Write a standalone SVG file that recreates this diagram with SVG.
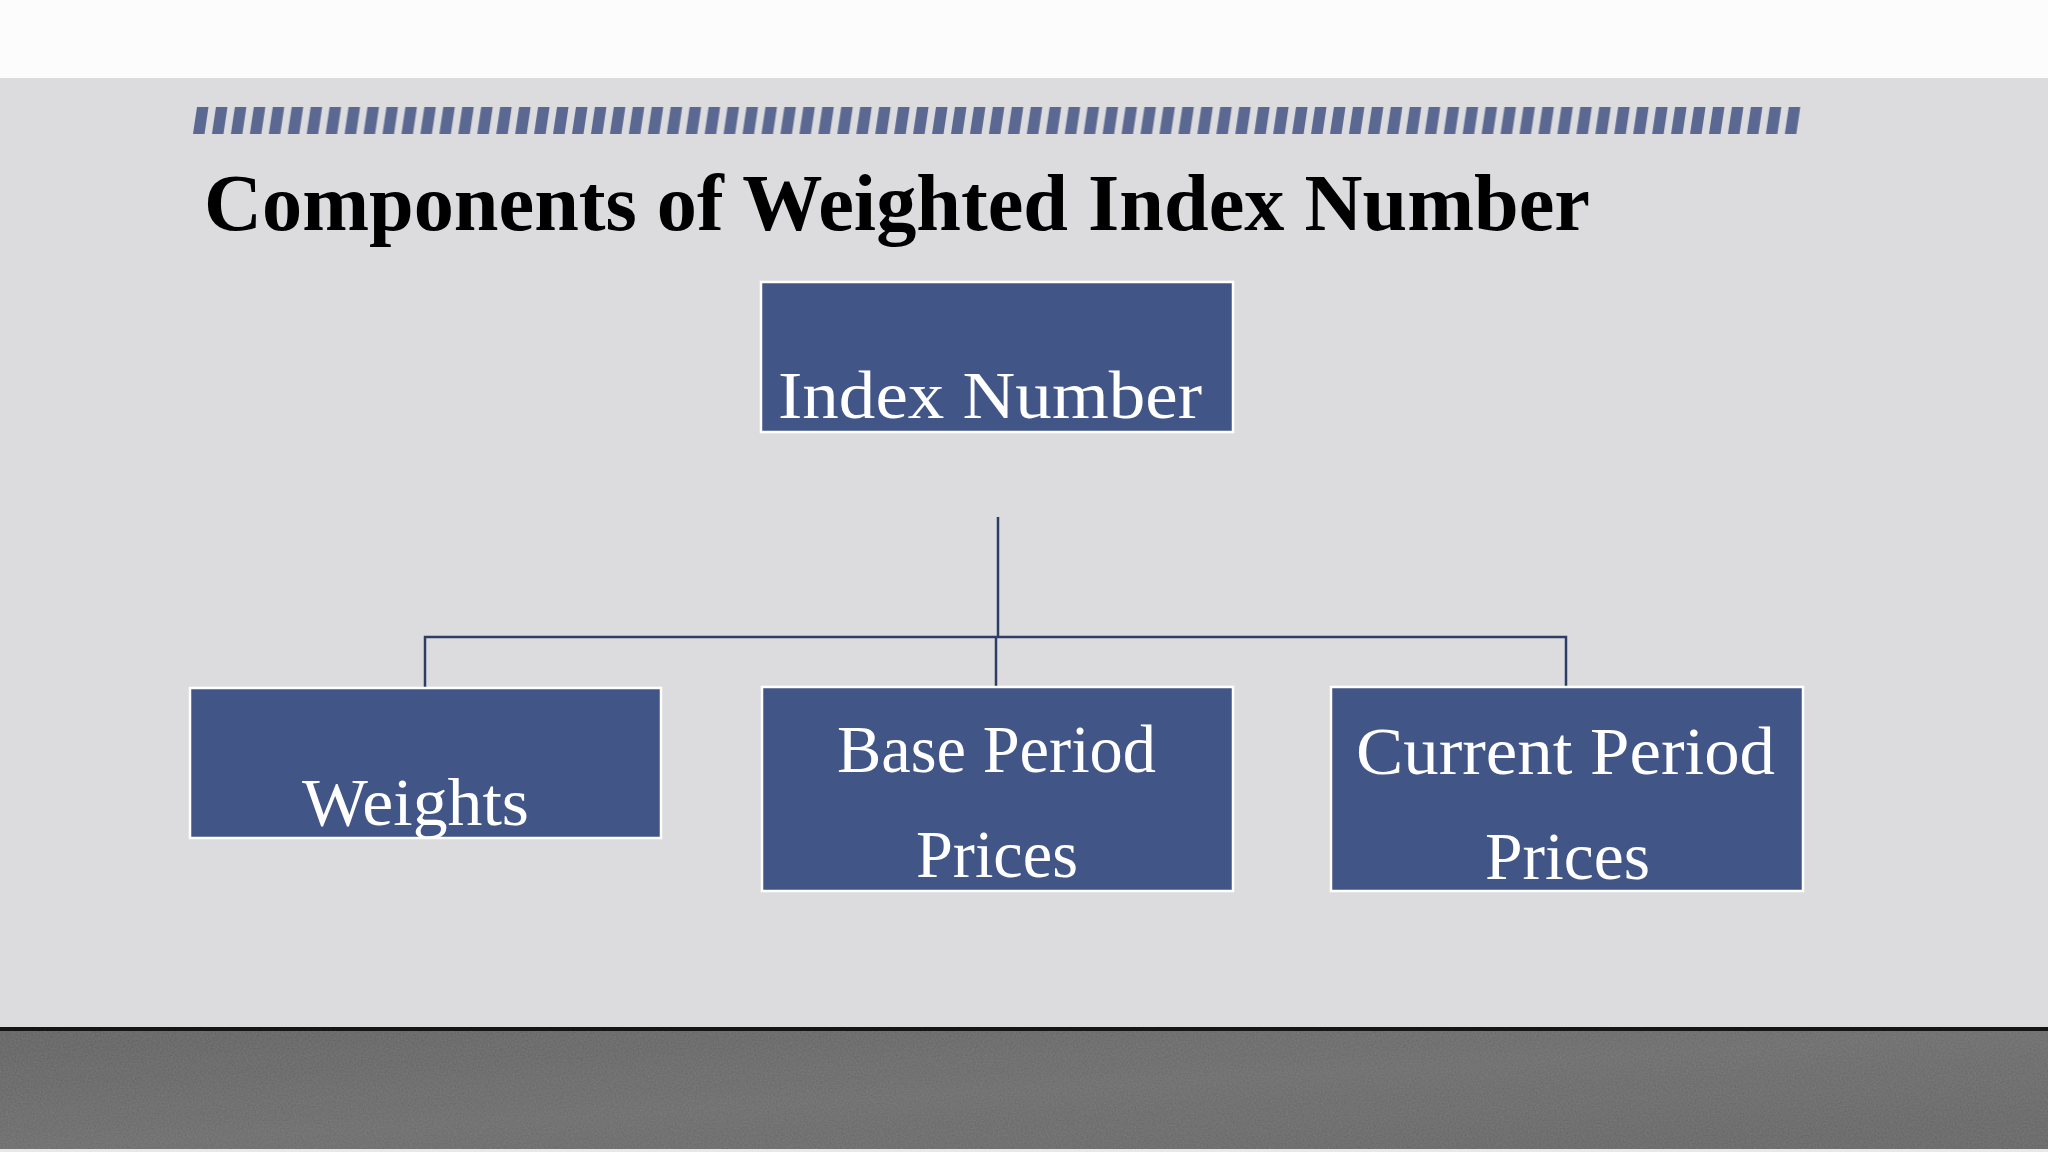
<svg xmlns="http://www.w3.org/2000/svg" width="2048" height="1152" viewBox="0 0 2048 1152">
  <style>
    .box { fill: #425587; stroke: #ffffff; stroke-width: 2.5; }
    .lbl { font-family: "Liberation Serif", "DejaVu Serif", serif; font-size: 68px; fill: #ffffff; }
    .conn { fill: none; stroke: #2d3d63; stroke-width: 2.5; }
    .title { font-family: "Liberation Serif", "DejaVu Serif", serif; font-weight: bold; font-size: 81px; fill: #000000; }
  </style>
  <defs>
    <pattern id="dashes" patternUnits="userSpaceOnUse" x="193" y="107" width="18.95" height="27">
      <polygon points="4,0 15.5,0 11.5,27 0,27" fill="#5b6891"/>
    </pattern>
    <linearGradient id="floor" x1="0" y1="0" x2="1" y2="1">
      <stop offset="0" stop-color="#5f5f5f"/>
      <stop offset="0.5" stop-color="#6a6a6a"/>
      <stop offset="1" stop-color="#626262"/>
    </linearGradient>
    <filter id="grain" x="0" y="0" width="100%" height="100%">
      <feTurbulence type="fractalNoise" baseFrequency="0.6" numOctaves="2" seed="3" result="n"/>
      <feColorMatrix in="n" type="matrix" values="0 0 0 0 0.5  0 0 0 0 0.5  0 0 0 0 0.5  0 0 0 0.18 0" result="g"/>
      <feComposite in="g" in2="SourceGraphic" operator="in" result="gi"/>
      <feMerge><feMergeNode in="SourceGraphic"/><feMergeNode in="gi"/></feMerge>
    </filter>
  </defs>

  <!-- background -->
  <rect x="0" y="0" width="2048" height="78" fill="#fcfcfc"/>
  <rect x="0" y="78" width="2048" height="950" fill="#dcdcdf"/>
  <rect x="0" y="1027" width="2048" height="4" fill="#151515"/>
  <rect x="0" y="1031" width="2048" height="118" fill="url(#floor)" filter="url(#grain)"/>
  <rect x="0" y="1149" width="2048" height="3" fill="#e8e8e8"/>

  <!-- decorative stripe -->
  <rect x="193" y="107" width="1609" height="27" fill="url(#dashes)"/>

  <!-- title -->
  <text class="title" x="204" y="230" textLength="1386" lengthAdjust="spacingAndGlyphs">Components of Weighted Index Number</text>

  <!-- connectors -->
  <g id="connectors">
    <path class="conn" d="M998,517 V637"/>
    <path class="conn" d="M425,687 V637 H1566 V687"/>
    <path class="conn" d="M996,637 V687"/>
  </g>

  <!-- nodes -->
  <g id="node-index-number">
    <rect class="box" x="761" y="282" width="472" height="150"/>
    <text class="lbl" x="778" y="418" textLength="424" lengthAdjust="spacingAndGlyphs">Index Number</text>
  </g>

  <g id="node-weights">
    <rect class="box" x="190" y="688" width="471" height="150"/>
    <text class="lbl" x="302" y="825" textLength="227" lengthAdjust="spacingAndGlyphs">Weights</text>
  </g>

  <g id="node-base-period-prices">
    <rect class="box" x="762" y="687" width="471" height="204"/>
    <text class="lbl" x="837" y="772" textLength="319" lengthAdjust="spacingAndGlyphs">Base Period</text>
    <text class="lbl" x="916" y="877" textLength="162" lengthAdjust="spacingAndGlyphs">Prices</text>
  </g>

  <g id="node-current-period-prices">
    <rect class="box" x="1331" y="687" width="472" height="204"/>
    <text class="lbl" x="1356" y="774" textLength="419" lengthAdjust="spacingAndGlyphs">Current Period</text>
    <text class="lbl" x="1485" y="879" textLength="165" lengthAdjust="spacingAndGlyphs">Prices</text>
  </g>
</svg>
